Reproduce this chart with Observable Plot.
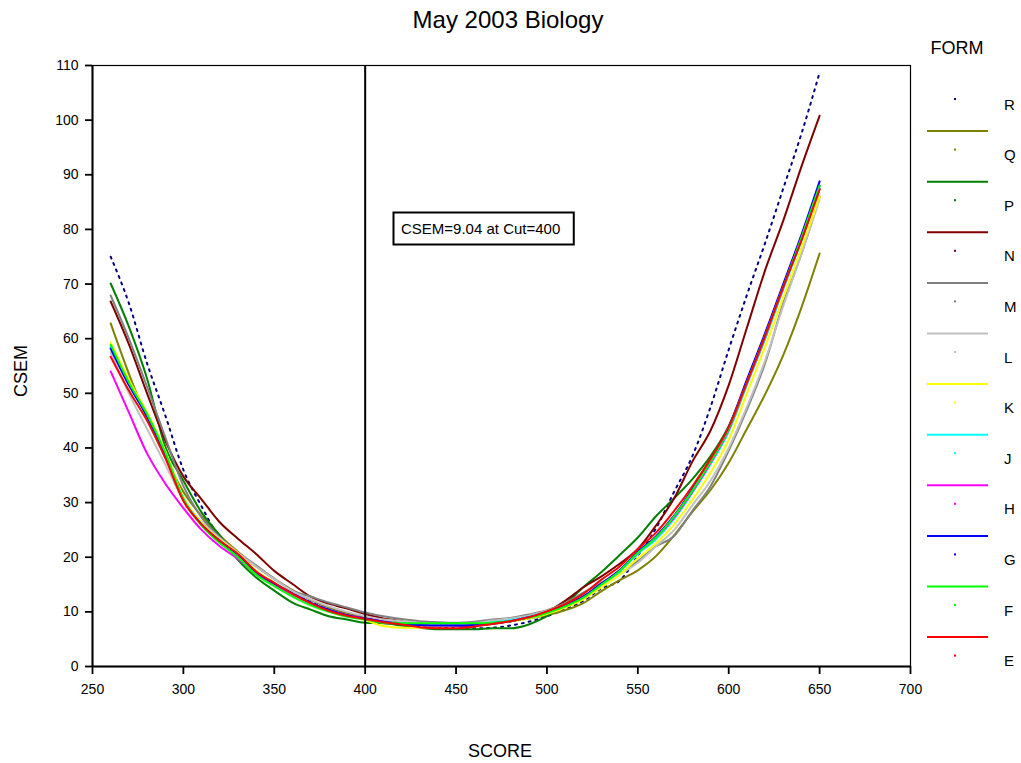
<!DOCTYPE html>
<html><head><meta charset="utf-8">
<script src="https://cdn.jsdelivr.net/npm/d3@7"></script>
<script src="https://cdn.jsdelivr.net/npm/@observablehq/plot@0.6"></script>
<style>
body{margin:0;background:#fff;}
#chart svg{display:block;}
</style>
</head><body><div id="chart"></div>
<script>
const FONT = '"Liberation Sans", Arial, Helvetica, sans-serif';

const titleText = "May 2003 Biology";
const xLabel = "SCORE";
const yLabel = "CSEM";
const legendTitle = "FORM";

const xTicks = [250, 300, 350, 400, 450, 500, 550, 600, 650, 700];
const yTicks = [0, 10, 20, 30, 40, 50, 60, 70, 80, 90, 100, 110];

const cutScore = 400;
const cutCsem = 9.04;

const scores = [260,270,280,290,300,310,320,330,340,350,360,370,380,390,400,410,420,430,440,450,
                460,470,480,490,500,510,520,530,540,550,560,570,580,590,600,610,620,630,640,650];

const forms = ["R","Q","P","N","M","L","K","J","H","G","F","E"];
const formColors = ["#000080","#808000","#008000","#800000","#808080","#c0c0c0",
                    "#ffff00","#00ffff","#ff00ff","#0000ff","#00ff00","#ff0000"];

const csemR = [75,66.5,55.5,46,36,29.3,23.5,20,17,15,13.3,11.8,10.4,9.5,8.8,8.2,7.8,7.4,7.1,7,
               7,7.1,7.5,8.2,9.2,10.5,12,14.3,15.7,20.3,25.3,32,38.5,47.5,58,68,77.5,87.5,97.5,108.7];
const csemQ = [62.8,53.6,45.4,38.3,32,27.5,24,21,18.3,16,14,12.2,10.8,9.8,9,8.5,8.2,7.9,7.8,7.8,
               7.9,8.1,8.4,8.8,9.4,10.3,11.6,13.8,15.8,17.6,20.2,24,28.3,32.3,37.3,43.5,49.8,57,65.7,75.6];
const csemP = [70.1,62.2,52.7,40.3,34,28.2,24,19.5,16.3,13.9,11.7,10.4,9.2,8.6,8,7.9,7.5,7.1,6.8,6.8,
               6.8,7,7,7.7,9.2,11.4,14.5,17.3,20.4,23.6,27.5,30.8,34.3,38.5,44,52,60,69.5,78,88];
const csemN = [66.8,59,50,41.4,34.8,30.6,26.4,23.4,20.6,17.5,15.1,12.8,11.5,10.6,9.6,8.8,8.3,7.8,7.5,7.4,
               7.5,7.8,8.3,9,10,12,14.5,16.5,18.8,21.5,25.8,30.8,37.5,43.2,51.5,62,72.5,81.6,91.5,100.8];
const csemM = [67.9,60,51.2,42,33,27.3,23.6,20.9,18.5,16.1,13.9,12.8,11.7,10.8,9.9,9.2,8.7,8.3,8.1,8,
               8.2,8.6,8.9,9.5,10.3,11.6,13.5,15.3,17,19.3,22,23.9,28.5,33,39.5,47,55.5,66.5,75.5,86];
const csemL = [57.5,50,43.5,37,30.5,26.5,23.5,20.8,18.3,16,13.8,12.3,11,10,9.2,8.6,8.3,8,7.8,7.8,
               8,8.4,8.8,9.3,10.2,11.3,12.8,14.8,16.8,19,22,25,29.5,34,40,47.5,56,66,75.5,85.5];
const csemK = [59.3,52.5,46.5,39.5,31,26.3,23.2,20.7,17.5,15.3,13.4,11.6,10.2,9.2,8.5,7.4,7.1,7.1,7.3,7.5,
               7.7,8,8.3,8.8,9.6,10.8,12.3,14.5,16.8,19.8,22.5,26,30.5,35.5,41.5,50,58.5,67.5,76.5,86];
const csemJ = [58.6,51.8,46,39,30.7,26,23,20.4,17.3,15.2,13.3,11.6,10.3,9.3,8.7,8.2,7.9,7.7,7.6,7.6,
               7.8,8.1,8.5,9.1,10,11.1,12.7,15,17.4,20.6,23.3,27,31.8,37,43,51.5,60,69,78,87.5];
const csemH = [54,46.5,39,33.5,29,25,22,19.7,17,15,13.2,11.6,10.3,9.4,8.8,8.2,7.8,7.6,7.5,7.5,
               7.6,7.9,8.3,9,10,11.2,12.8,15.2,17.6,20.8,23.6,27.3,32,37.3,43.3,51.8,60.3,69.3,78.3,87.5];
const csemG = [58.2,51.5,45.8,38.8,30.5,26,23,20.5,17.3,15.2,13.4,11.7,10.4,9.4,8.8,8.2,7.8,7.6,7.5,7.5,
               7.6,7.9,8.3,9,10,11.2,12.8,15.2,17.6,21,23.8,27.6,32.5,37.8,43.8,52.5,61,70,79,88.8];
const csemF = [58.9,52,46.2,39.2,30.6,25.8,22.6,20,16.8,14.7,12.8,11.2,10,9.1,8.6,8,7.9,7.9,7.9,7.9,
               7.9,8,8.3,8.9,9.8,11,12.6,15,17.5,20.8,23.6,27.5,32.2,37.5,43.5,52,60.5,69.5,78.5,88];
const csemE = [56.7,50.5,45,38.2,30.3,26,23,20.6,17.4,15.3,13.3,11.6,10.2,9.3,8.7,8.1,7.7,7.2,7,7,
               7.3,7.8,8.3,9,10.1,11.4,13.3,15.9,18.3,21.5,24.5,28.5,33,38,43.8,52,60.5,69.5,78,87.3];

const seriesValues = [csemR,csemQ,csemP,csemN,csemM,csemL,csemK,csemJ,csemH,csemG,csemF,csemE];

const rows = forms.map((f, i) => scores.map((s, j) => ({form: f, score: s, csem: seriesValues[i][j]})));

const lineMarks = forms.map((f, i) => Plot.line(rows[i], {
  x: "score", y: "csem", stroke: formColors[i], strokeWidth: 2, curve: "monotone-x",
  ...(f === "R" ? {strokeDasharray: "2,5"} : {})
}));

const plot = Plot.plot({
  width: 1021, height: 763,
  marginLeft: 92, marginRight: 111, marginTop: 65, marginBottom: 97,
  style: {fontFamily: FONT, fontSize: "14px", color: "#000", background: "#fff", overflow: "visible"},
  x: {domain: [250, 700]},
  y: {domain: [0, 110]},
  marks: [
    Plot.frame({stroke: "#000", strokeWidth: 1.2}),
    Plot.axisX({ticks: xTicks, tickSize: 8, tickPadding: 10, tickFormat: d => String(d), label: null, strokeWidth: 1.8, fontSize: 14}),
    Plot.axisY({ticks: yTicks, tickSize: 7, tickPadding: 7, tickFormat: d => String(d), label: null, strokeWidth: 1.8, fontSize: 14}),
    Plot.ruleX([250], {stroke: "#000", strokeWidth: 2}),
    Plot.ruleY([0], {stroke: "#000", strokeWidth: 2}),
    ...lineMarks,
    Plot.ruleX([cutScore], {stroke: "#000", strokeWidth: 2})
  ]
});

document.getElementById("chart").appendChild(plot);
const svg = d3.select(plot);

// title
svg.append("text").attr("x", 508).attr("y", 28).attr("text-anchor", "middle")
  .attr("font-family", FONT).attr("font-size", 24).attr("fill", "#000").text(titleText);
// axis labels
svg.append("text").attr("x", 500).attr("y", 757).attr("text-anchor", "middle")
  .attr("font-family", FONT).attr("font-size", 18).attr("fill", "#000").text(xLabel);
svg.append("text").attr("transform", "translate(27,371) rotate(-90)").attr("text-anchor", "middle")
  .attr("font-family", FONT).attr("font-size", 18).attr("fill", "#000").text(yLabel);

// annotation box
const ann = svg.append("g");
const annText = ann.append("text").attr("x", 401).attr("y", 234).attr("text-anchor", "start")
  .attr("font-family", FONT).attr("font-size", 15).attr("fill", "#000")
  .text(`CSEM=${cutCsem} at Cut=${cutScore}`);
const bb = annText.node().getBBox();
ann.insert("rect", "text").attr("x", 393.5).attr("y", 212.5)
  .attr("width", bb.width + 21).attr("height", 32)
  .attr("fill", "#fff").attr("stroke", "#000").attr("stroke-width", 2);

// legend
const lg = svg.append("g").attr("font-family", FONT).attr("fill", "#000");
lg.append("text").attr("x", 957).attr("y", 54).attr("text-anchor", "middle").attr("font-size", 18).text(legendTitle);
forms.forEach((f, i) => {
  const cy = 104 + i * 50.6;
  if (f !== "R") {
    lg.append("line").attr("x1", 927).attr("x2", 988).attr("y1", cy - 23.5).attr("y2", cy - 23.5)
      .attr("stroke", formColors[i]).attr("stroke-width", 2);
  }
  lg.append("rect").attr("x", 954).attr("y", cy - 6).attr("width", 2).attr("height", 2).attr("fill", formColors[i]);
  lg.append("text").attr("x", 1004).attr("y", cy + 5.5).attr("text-anchor", "start").attr("font-size", 15).text(f);
});
</script>
</body></html>
